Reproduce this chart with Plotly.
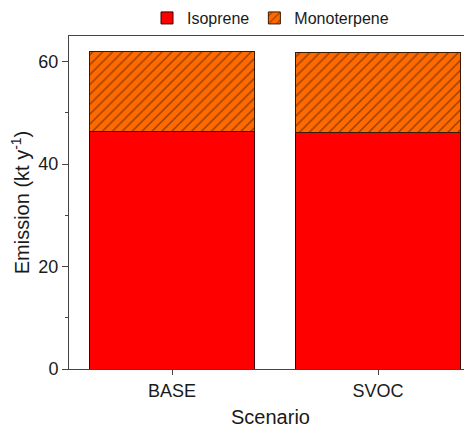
import plotly.graph_objects as go

scenarios = ["BASE", "SVOC"]
isoprene = [46.4, 46.2]
monoterpene = [15.6, 15.5]

FONT = "Liberation Sans, Arial, sans-serif"
TXT = "#1a1a1a"

fig = go.Figure()
fig.add_trace(go.Bar(
    x=scenarios, y=isoprene, name="Isoprene",
    marker=dict(color="#ff0000", line=dict(color="#3a0000", width=1)),
    width=0.8,
))
fig.add_trace(go.Bar(
    x=scenarios, y=monoterpene, name="Monoterpene",
    marker=dict(color="#ff6a00", line=dict(color="#3a1a00", width=1),
                pattern=dict(shape="/", fillmode="overlay", fgcolor="#2a1000",
                             size=7, solidity=0.2)),
    width=0.8,
))

fig.update_layout(
    barmode="stack",
    width=464, height=421,
    margin=dict(l=61, r=0, t=28, b=60, autoexpand=False),
    paper_bgcolor="white", plot_bgcolor="white",
    font=dict(family=FONT, color=TXT, size=18),
    legend=dict(orientation="h", x=0.5, xanchor="center", y=1.105, yanchor="top",
                font=dict(size=16, color=TXT), itemwidth=30,
                bgcolor="rgba(0,0,0,0)", traceorder="normal"),
    xaxis=dict(range=[-0.5, 1.456], showline=True, linecolor="#444", linewidth=1,
               mirror=True, ticks="outside", ticklen=5, tickcolor="#444",
               tickfont=dict(size=18, color=TXT), automargin=False,
               title=dict(text="Scenario", font=dict(size=20, color=TXT), standoff=10),
               showgrid=False, zeroline=False),
    yaxis=dict(range=[0, 65], tickvals=[0, 20, 40, 60], showline=True, linecolor="#444",
               linewidth=1, ticks="outside", ticklen=6, tickcolor="#444",
               minor=dict(tickvals=[10, 30, 50], ticks="outside", ticklen=3, tickcolor="#444"),
               tickfont=dict(size=18, color=TXT), automargin=False,
               title=dict(text="Emission (kt y<sup>-1</sup>)", font=dict(size=20, color=TXT), standoff=6),
               showgrid=False, zeroline=False),
)

fig.write_html("out.html")
